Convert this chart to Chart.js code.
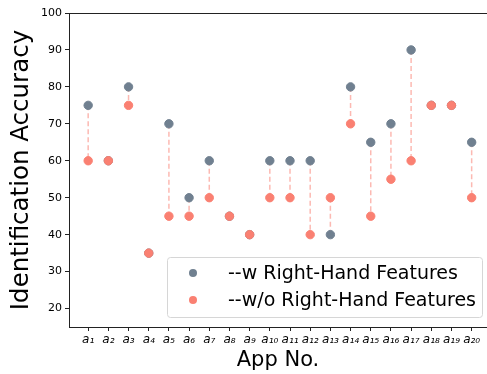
<!DOCTYPE html>
<html>
<head>
<meta charset="utf-8">
<script src="https://cdn.jsdelivr.net/npm/chart.js@4.4.1/dist/chart.umd.min.js"></script>
<style>
  html, body { margin: 0; padding: 0; background: #fff; }
  #wrap { width: 487px; height: 374px; }
</style>
</head>
<body>
<div id="wrap"><canvas id="c" width="487" height="374"></canvas></div>
<script>
// app numbers (x positions) and their subscript labels
const apps = [1, 2, 3, 4, 5, 6, 7, 8, 9, 10, 11, 12, 13, 14, 15, 16, 17, 18, 19, 20];
// accuracy with / without right-hand features
const withRight = [75, 60, 80, 35, 70, 50, 60, 45, 40, 60, 60, 60, 40, 80, 65, 70, 90, 75, 75, 65];
const withoutRight = [60, 60, 75, 35, 45, 45, 50, 45, 40, 50, 50, 40, 50, 70, 45, 55, 60, 75, 75, 50];
const yTicks = [20, 30, 40, 50, 60, 70, 80, 90, 100];
const seriesNames = ['--w Right-Hand Features', '--w/o Right-Hand Features'];

const GRAY = '#708090';
const SALMON = '#fa8072';
const FONT = "'DejaVu Sans', sans-serif";

const subDigits = '₀₁₂₃₄₅₆₇₈₉';
const sub = n => String(n).split('').map(d => subDigits[+d]).join('');

// dashed connectors: two points per app, then a gap
const links = [];
apps.forEach((a, i) => {
    links.push({ x: i, y: withRight[i] });
    links.push({ x: i, y: withoutRight[i] });
    links.push({ x: i, y: null });
});

const frame = {
    id: 'frame',
    afterDatasetsDraw(chart) {
        const { ctx, chartArea: a } = chart;
        ctx.save();
        ctx.strokeStyle = '#222';
        ctx.lineWidth = 1;
        ctx.strokeRect(a.left + 0.5, a.top + 0.5, a.right - a.left, a.bottom - a.top);
        ctx.restore();
    }
};

// legend box in the lower right of the plot
const innerLegend = {
    id: 'innerLegend',
    afterDraw(chart) {
        const { ctx } = chart;
        const x = 167, y = 257, w = 315, h = 60;
        ctx.save();
        ctx.beginPath();
        ctx.roundRect(x + 0.5, y + 0.5, w, h, 3);
        ctx.fillStyle = 'rgba(255,255,255,0.8)';
        ctx.fill();
        ctx.strokeStyle = '#d6d6d6';
        ctx.lineWidth = 1;
        ctx.stroke();
        const colors = [GRAY, SALMON];
        const rows = [273, 300];
        ctx.font = '19px ' + FONT;
        ctx.textBaseline = 'middle';
        seriesNames.forEach((name, i) => {
            ctx.beginPath();
            ctx.arc(193, rows[i], 4, 0, Math.PI * 2);
            ctx.fillStyle = colors[i];
            ctx.fill();
            ctx.fillStyle = '#000';
            ctx.fillText(name, 228, rows[i] + 1);
        });
        ctx.restore();
    }
};

new Chart(document.getElementById('c'), {
    type: 'scatter',
    data: {
        datasets: [
            {
                type: 'line',
                label: 'links',
                data: links,
                borderColor: 'rgba(250,128,114,0.55)',
                borderWidth: 1.5,
                borderDash: [5, 3],
                pointRadius: 0,
                spanGaps: false,
                order: 3
            },
            {
                label: seriesNames[0],
                data: apps.map((a, i) => ({ x: i, y: withRight[i] })),
                backgroundColor: GRAY,
                borderColor: GRAY,
                pointRadius: 4.2,
                order: 2
            },
            {
                label: seriesNames[1],
                data: apps.map((a, i) => ({ x: i, y: withoutRight[i] })),
                backgroundColor: SALMON,
                borderColor: SALMON,
                pointRadius: 4.2,
                order: 1
            }
        ]
    },
    options: {
        responsive: false,
        animation: false,
        layout: { autoPadding: false, padding: { top: 13, right: 0, left: 0, bottom: 0 } },
        plugins: {
            legend: { display: false },
            tooltip: { enabled: false }
        },
        scales: {
            x: {
                type: 'linear',
                min: -0.95,
                max: 19.76,
                afterBuildTicks: s => { s.ticks = apps.map((a, i) => ({ value: i })); },
                afterFit: s => { s.height = 47; s.paddingLeft = 0; s.paddingRight = 0; },
                grid: { drawOnChartArea: false, tickLength: 4, color: '#222' },
                border: { display: false },
                ticks: {
                    autoSkip: false,
                    maxRotation: 0,
                    padding: 2,
                    color: '#000',
                    font: { family: FONT, size: 12, style: 'italic' },
                    callback: v => 'a' + sub(apps[v])
                },
                title: {
                    display: true,
                    text: 'App No.',
                    color: '#000',
                    font: { family: FONT, size: 21 },
                    padding: { top: 0, bottom: 1 }
                }
            },
            y: {
                min: 15,
                max: 100,
                afterBuildTicks: s => { s.ticks = yTicks.map(v => ({ value: v })); },
                afterFit: s => { s.width = 69; s.paddingTop = 0; s.paddingBottom = 0; },
                grid: { drawOnChartArea: false, tickLength: 4, color: '#222' },
                border: { display: false },
                ticks: {
                    padding: 3,
                    color: '#000',
                    font: { family: FONT, size: 11 }
                },
                title: {
                    display: true,
                    text: 'Identification Accuracy',
                    color: '#000',
                    font: { family: FONT, size: 24.5 },
                    padding: { top: 7, bottom: 0 }
                }
            }
        }
    },
    plugins: [frame, innerLegend]
});
</script>
</body>
</html>
